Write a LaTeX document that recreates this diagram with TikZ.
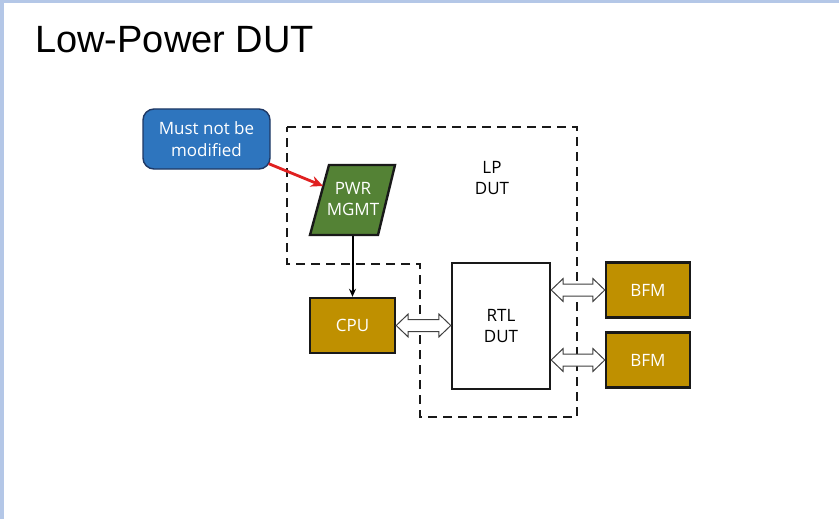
\documentclass[tikz,border=0pt]{standalone}
\usepackage{fontspec}
\setmainfont{Open Sans}
\newfontfamily\titlefont{Liberation Sans}
\usetikzlibrary{arrows.meta,calc}
\definecolor{framebl}{RGB}{180,199,231}
\definecolor{callbl}{RGB}{46,117,190}
\definecolor{callbd}{RGB}{31,56,100}
\definecolor{pwrgreen}{RGB}{84,130,53}
\definecolor{gold}{RGB}{191,144,0}
\definecolor{redarr}{RGB}{224,32,32}
\tikzset{
  goldbox/.style={draw=black!90, line width=2.4pt, fill=gold, text=white, font=\fontsize{17}{20}\selectfont, inner sep=0pt},
  whitebox/.style={draw=black!90, line width=2.4pt, fill=white, font=\fontsize{17}{21}\selectfont, align=center, inner sep=0pt},
  dbl/.style={draw=black!75, line width=1pt, fill=white},
  dashbox/.style={draw=black!90, line width=2.3pt, dash pattern=on 9pt off 6pt},
}
\newcommand\dblarr[2]{%
  \draw[dbl] let \p1=#1, \p2=#2 in
    (\x1,\y1) -- (\x1+12pt,\y1+11.5pt) -- (\x1+12pt,\y1+6pt) -- (\x2-12pt,\y1+6pt)
    -- (\x2-12pt,\y1+11.5pt) -- (\x2,\y1) -- (\x2-12pt,\y1-11.5pt) -- (\x2-12pt,\y1-6pt)
    -- (\x1+12pt,\y1-6pt) -- (\x1+12pt,\y1-11.5pt) -- cycle;}
\begin{document}
\begin{tikzpicture}[x=1pt,y=-1pt]
\useasboundingbox (0,0) rectangle (839,519);
\fill[white] (0,0) rectangle (839,519);
\fill[framebl] (0,0) rectangle (839,3);
\fill[framebl] (0,0) rectangle (4,519);

\node[anchor=base west, font=\titlefont\fontsize{38}{44}\selectfont, inner sep=0pt] (title) at (35,53) {Low-Power DUT};

% dashed LP DUT outline
\draw[dashbox] (287,127) -- (577,127) -- (577,417) -- (420,417) -- (420,264) -- (287,264) -- cycle;
\node[font=\fontsize{17}{21}\selectfont, align=center, inner sep=0pt] (lp) at (492,178) {LP\\DUT};

% boxes
\node[goldbox, minimum width=85pt, minimum height=55pt] (cpu) at (352.5,325.5) {CPU};
\node[whitebox, minimum width=98pt, minimum height=126pt] (rtl) at (501,326) {RTL\\DUT};
\node[goldbox, minimum width=84pt, minimum height=55pt] (bfm1) at (648,290) {BFM};
\node[goldbox, minimum width=84pt, minimum height=55pt] (bfm2) at (648,360) {BFM};

% PWR MGMT parallelogram
\draw[draw=black!90, line width=2.4pt, fill=pwrgreen, line join=miter] (329,165) -- (395,165) -- (378,235) -- (310,235) -- cycle;
\node[text=white, font=\fontsize{17}{21}\selectfont, align=center, inner sep=0pt] (pwr) at (353,199) {PWR\\MGMT};
\coordinate (pwrbot) at (352.5,236);
\draw[line width=2pt, -{Stealth[length=8pt,width=7pt]}] (pwrbot) -- (cpu.north);

% callout
\node[draw=callbd, line width=1.4pt, fill=callbl, rounded corners=11pt, text=white,
      minimum width=127pt, minimum height=60pt, align=center,
      font=\fontsize{17}{22}\selectfont, inner sep=0pt] (call) at (206.5,139) {Must not be\\modified};
\coordinate (pwrtip) at (323,186);
\draw[redarr, line width=2.8pt, -{Stealth[length=12pt,width=11pt]}] (call.south east) ++(-2,-6) coordinate (cstart) (cstart) -- (pwrtip);

% double arrows
\dblarr{(cpu.east)}{(rtl.west)}
\dblarr{(rtl.east|-bfm1.west)}{(bfm1.west)}
\dblarr{(rtl.east|-bfm2.west)}{(bfm2.west)}
\end{tikzpicture}
\end{document}
